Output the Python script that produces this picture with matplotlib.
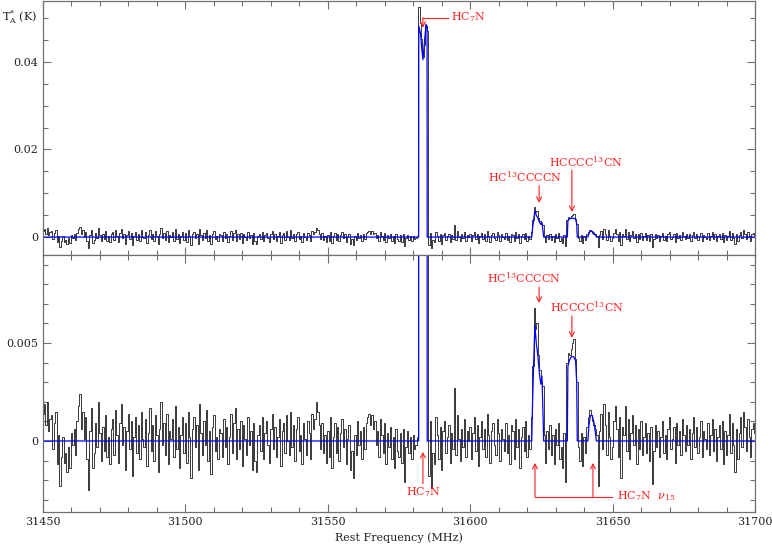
import numpy as np
import matplotlib
matplotlib.use("Agg")
import matplotlib.pyplot as plt
from matplotlib.ticker import MultipleLocator, FixedLocator, FixedFormatter

plt.rcParams['font.family'] = ['DejaVu Serif']
plt.rcParams['mathtext.fontset'] = 'dejavuserif'

# ---- data -------------------------------------------------------------
f_start = 31450.0
chan_width = 0.5  # MHz
# observed spectrum, units of 1e-4 K, one value per 0.5 MHz channel
spec_e4 = [
    14, 19, 8, 20, 5, 11, 13, -4, 9, 15, -12, 3, -23, -8, 2, -11, -6, -16, -3, -14, 4, -2, 6, -7, 10,
    18, 24, 6, 15, 1, 12, -9, -25, 5, 17, -14, -6, 9, -3, 20, 4, -10, 7, -5, 13, -8, 2, -12, 6, 11,
    -7, 16, 3, -11, 9, 19, -2, 7, -15, 5, 14, -4, 10, -18, 2, 12, -6, 8, -9, 15, 1, -3, 11, -13, 4,
    17, -5, 8, -10, 13, 3, -16, 6, 20, -2, 9, -7, 14, -12, 5, 1, 11, -8, 18, -4, 7, -14, 3, 12, -6,
    9, -11, 15, 2, -19, 6, 12, -3, 8, -15, 19, 4, -7, 10, -2, 16, -10, 5, -17, 7, 13, -5, 2, -9, 6,
    4, -8, 11, -3, 7, -12, 2, 14, -6, 9, 17, -9, 6, -4, 10, -13, 8, 1, -7, 12, -2, 5, -15, 9, -10,
    -16, 3, 8, -5, 12, -9, 4, 10, -2, -11, 6, 14, -4, 7, -8, 2, 11, -13, 5, 9, -6, 13, 0, -7, 15,
    -3, 8, -10, 6, 12, -5, 3, -12, 9, 1, -7, 10, 4, -9, 14, 6, 11, 20, 15, 8, -4, 9, -6, 3, -11,
    5, -8, 12, -14, 2, 9, -6, 7, -10, 4, 11, -3, 6, -12, 1, 8, -15, -5, -19, 3, -7, 10, -2, 5, -9,
    7, -4, 9, 12, 14, 8, 13, 6, 10, -2, 5, -8, 11, 3, -6, 9, -12, 4, -3, 7, -9, 2, -14, 6, -5,
    -8, 4, -11, 6, -21, -3, 5, -6, 2, -9, 3, -4, -2, 2, 526, 488, 452, 410, 438, 482, 470, -18, 10, -24, -6,
    -12, 12, 3, -9, 7, -15, 5, 10, -6, 2, 8, -11, 4, -4, 27, -7, 13, 1, -10, 6, -3, 11, -8, 5, 0,
    7, -9, 4, 12, -5, 8, -13, 2, 10, -4, 6, -8, 14, 3, -11, 5, 9, -2, -7, 11, 4, -10, 6, 1, -5,
    9, -6, 3, -12, 8, 5, -9, 11, -3, 6, -14, 2, 7, -5, 10, -8, 3, -4, 12, 38, 68, 57, 60, 44, 36,
    30, 28, 3, -11, 5, -4, 8, -7, 3, -12, 6, -2, 9, -9, -3, -14, 4, -21, 40, 45, 44, 47, 50, 52, 42,
    30, -3, -10, 4, -13, 2, -6, 7, 12, 16, 13, 10, 8, 6, 3, -23, 5, 14, -4, 19, 8, -7, 15, 2, -9,
    -3, 10, 18, 6, -8, 12, -19, 7, 3, 18, -5, 11, -9, 4, 13, -2, 8, -12, 6, -4, 10, -7, 2, 9, -6,
    4, -10, 7, -22, -5, 8, -3, 5, -8, 2, 10, -6, 3, -9, 6, 12, -4, 1, 7, -11, 9, -2, 5, -7, 11,
    3, -5, 8, -2, 6, -9, 4, 12, -3, 7, -6, 2, 10, -8, 5, 1, -4, 9, -7, 3, 11, -5, 6, -10, 2,
    8, -4, 10, -12, 5, -7, 3, 14, -6, 9, -2, -16, 6, -9, 4, 12, -3, 15, 7, -5, 11, 2, -8, 6, 9,
    4,
]

# model fit (blue)
model_freq = [31450.0, 31581.9, 31581.95, 31582.6, 31583.0, 31583.4, 31584.0, 31584.5, 31584.85, 31584.9,
              31621.6, 31621.9, 31622.3, 31622.7, 31623.2, 31623.8, 31624.4, 31624.8, 31625.2, 31625.6, 31625.8,
              31634.1, 31634.3, 31634.8, 31635.5, 31636.3, 31637.0, 31637.4, 31637.6,
              31641.3, 31641.7, 31642.2, 31642.8, 31643.4, 31643.9, 31644.3, 31700.0]
model_val = [0.0, 0.0, 0.0482, 0.0462, 0.0430, 0.0405, 0.0450, 0.0485, 0.0480, 0.0,
             0.0, 0.0020, 0.0040, 0.0059, 0.0050, 0.0043, 0.0033, 0.0029, 0.0033, 0.0012, 0.0,
             0.0, 0.0038, 0.0041, 0.0043, 0.0043, 0.0041, 0.0030, 0.0,
             0.0, 0.0008, 0.0013, 0.0013, 0.0010, 0.0005, 0.0, 0.0]

x_ticks = [31450, 31500, 31550, 31600, 31650, 31700]
top_yticks = [0.0, 0.02, 0.04]
top_ylabels = ["0", "0.02", "0.04"]
bot_yticks = [0.0, 0.005]
bot_ylabels = ["0", "0.005"]

# ---- figure -----------------------------------------------------------
spec = np.array(spec_e4) * 1e-4
freq = f_start + chan_width * np.arange(len(spec))

fig = plt.figure(figsize=(7.72, 5.5), dpi=100)
L, R = 43 / 772, 755 / 772
ax1 = fig.add_axes([L, 1 - 255 / 550, R - L, 254 / 550])
ax2 = fig.add_axes([L, 1 - 511.7 / 550, R - L, 256.7 / 550])

axis_col = '#707070'
red = '#ff2020'
fs = 8

for ax in (ax1, ax2):
    ax.plot(freq, spec, drawstyle='steps-mid', color='#1a1a1a', lw=0.6)
    ax.plot(model_freq, model_val, color='#0000ff', lw=0.9)
    ax.set_xlim(31450, 31700)
    ax.xaxis.set_major_locator(FixedLocator(x_ticks))
    ax.xaxis.set_minor_locator(MultipleLocator(10))
    ax.tick_params(which='both', direction='in', top=True, right=True,
                   color=axis_col, labelsize=fs, labelcolor='#222222', width=0.8)
    ax.tick_params(which='major', length=6)
    ax.tick_params(which='minor', length=3.5)
    for s in ax.spines.values():
        s.set_color(axis_col)
        s.set_linewidth(0.9)

ax1.set_ylim(-0.0041, 0.0539)
ax1.yaxis.set_major_locator(FixedLocator(top_yticks))
ax1.yaxis.set_major_formatter(FixedFormatter(top_ylabels))
ax1.yaxis.set_minor_locator(MultipleLocator(0.005))
ax1.tick_params(labelbottom=False)

ax2.set_ylim(-0.00361, 0.00949)
ax2.yaxis.set_major_locator(FixedLocator(bot_yticks))
ax2.yaxis.set_major_formatter(FixedFormatter(bot_ylabels))
ax2.yaxis.set_minor_locator(MultipleLocator(0.001))
ax2.set_xlabel('Rest Frequency (MHz)', fontsize=fs, color='#222222', labelpad=4)

fig.text(0.003, 0.968, r'T$_{\rm A}^{*}$ (K)', fontsize=fs, color='#222222', va='center', ha='left')

arw = dict(arrowstyle='->,head_length=0.35,head_width=0.18', color=red, lw=0.8, shrinkA=0, shrinkB=0)

# top panel annotations
ax1.plot([31583.4, 31592.2], [0.0501, 0.0501], color=red, lw=0.8)
ax1.annotate('', xy=(31583.4, 0.0478), xytext=(31583.4, 0.0501), arrowprops=arw)
ax1.text(31593.3, 0.0503, r'HC$_7$N', color=red, fontsize=fs, va='center', ha='left')

ax1.annotate('', xy=(31624.2, 0.0078), xytext=(31624.2, 0.0117), arrowprops=arw)
ax1.text(31619.2, 0.0137, r'HC$^{13}$CCCCN', color=red, fontsize=fs, va='center', ha='center')

ax1.annotate('', xy=(31635.7, 0.0057), xytext=(31635.7, 0.0153), arrowprops=arw)
ax1.text(31640.7, 0.0171, r'HCCCC$^{13}$CN', color=red, fontsize=fs, va='center', ha='center')

# bottom panel annotations
ax2.annotate('', xy=(31624.2, 0.00704), xytext=(31624.2, 0.00786), arrowprops=arw)
ax2.text(31618.9, 0.00832, r'HC$^{13}$CCCCN', color=red, fontsize=fs, va='center', ha='center')

ax2.annotate('', xy=(31635.7, 0.00526), xytext=(31635.7, 0.00638), arrowprops=arw)
ax2.text(31641.0, 0.00684, r'HCCCC$^{13}$CN', color=red, fontsize=fs, va='center', ha='center')

ax2.annotate('', xy=(31583.4, -0.00056), xytext=(31583.4, -0.00219), arrowprops=arw)
ax2.text(31583.4, -0.00262, r'HC$_7$N', color=red, fontsize=fs, va='center', ha='center')

ax2.plot([31622.75, 31649.8], [-0.00286, -0.00286], color=red, lw=0.8)
ax2.annotate('', xy=(31622.75, -0.00112), xytext=(31622.75, -0.00286), arrowprops=arw)
ax2.annotate('', xy=(31643.1, -0.00112), xytext=(31643.1, -0.00286), arrowprops=arw)
ax2.text(31651.5, -0.00283, r'HC$_7$N  $\nu_{15}$', color=red, fontsize=fs, va='center', ha='left')

fig.savefig('out.png', dpi=100)
